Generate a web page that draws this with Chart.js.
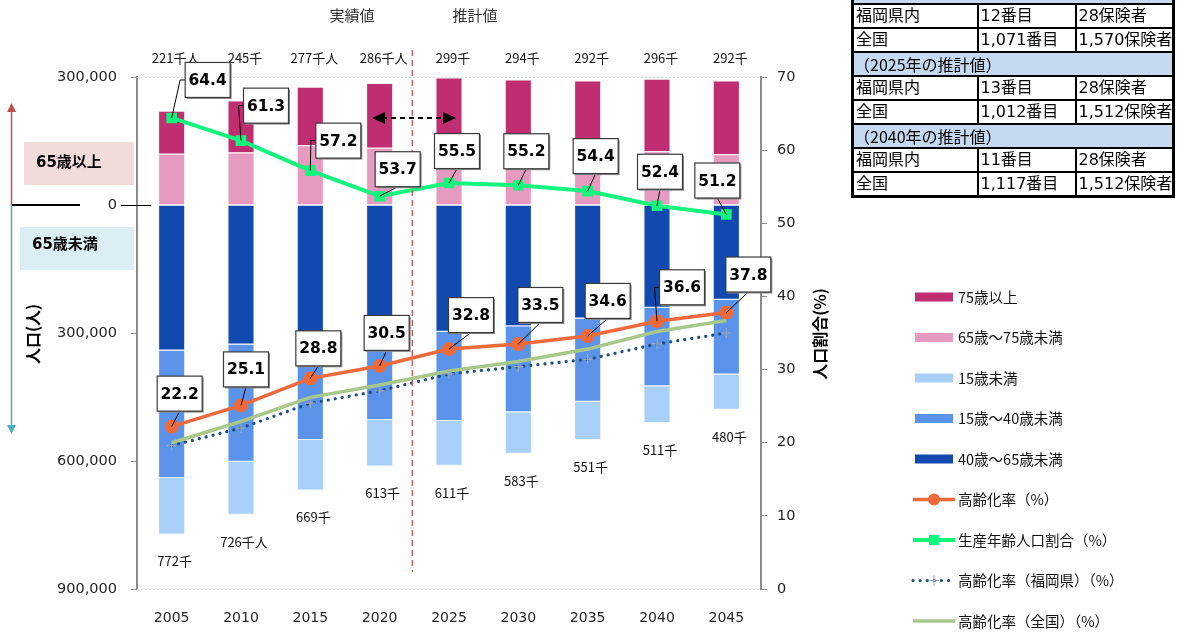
<!DOCTYPE html>
<html lang="ja">
<head>
<meta charset="utf-8">
<title>人口推移</title>
<script src="https://cdn.jsdelivr.net/npm/chart.js@4.4.1/dist/chart.umd.min.js"></script>
<style>
  html, body { margin: 0; padding: 0; background: #fff; }
  #wrap { position: relative; width: 1177px; height: 633px; overflow: hidden; }
  #chart { position: absolute; left: 0; top: 0; }
  #rank {
    position: absolute; left: 851px; top: -22px;
    border-collapse: collapse; border: 3px solid #000;
    table-layout: fixed; width: 324px;
    font: 16px "DejaVu Sans", "Noto Sans CJK JP", sans-serif; color: #000;
  }
  #rank td {
    border: 2px solid #000; height: 22px; line-height: 20px;
    padding: 0 0 0 2px; white-space: nowrap; overflow: hidden;
  }
  #rank tr.hd td { background: #c5d9f1; font-family: "Noto Sans CJK JP", sans-serif; padding-left: 0; }
</style>
</head>
<body>
<div id="wrap">
  <canvas id="chart" width="1177" height="633"></canvas>
  <table id="rank">
    <colgroup><col style="width:125px"><col style="width:98px"><col style="width:98px"></colgroup>
    <tr class="hd"><td colspan="3"></td></tr>
    <tr><td>福岡県内</td><td>12番目</td><td>28保険者</td></tr>
    <tr><td>全国</td><td>1,071番目</td><td>1,570保険者</td></tr>
    <tr class="hd"><td colspan="3">（2025年の推計値）</td></tr>
    <tr><td>福岡県内</td><td>13番目</td><td>28保険者</td></tr>
    <tr><td>全国</td><td>1,012番目</td><td>1,512保険者</td></tr>
    <tr class="hd"><td colspan="3">（2040年の推計値）</td></tr>
    <tr><td>福岡県内</td><td>11番目</td><td>28保険者</td></tr>
    <tr><td>全国</td><td>1,117番目</td><td>1,512保険者</td></tr>
  </table>
</div>
<script>
const years = ['2005', '2010', '2015', '2020', '2025', '2030', '2035', '2040', '2045'];

// population by age group (people); 65+ groups are drawn upward from 0
const pop75plus  = [101000, 122000, 137000, 152000, 184000, 187000, 179000, 170000, 173000];
const pop65to74  = [120000, 123000, 140000, 134000, 115000, 107000, 113000, 126000, 119000];
const pop40to64  = [341000, 327000, 310000, 295000, 297000, 284000, 266000, 241000, 222000];
const pop15to39  = [299000, 275000, 241000, 209000, 209000, 202000, 195000, 184000, 175000];
const popUnder15 = [132000, 124000, 118000, 109000, 105000, 97000, 90000, 86000, 83000];

// ratios (%)
const agingRate         = [22.2, 25.1, 28.8, 30.5, 32.8, 33.5, 34.6, 36.6, 37.8];
const workingAgeRate    = [64.4, 61.3, 57.2, 53.7, 55.5, 55.2, 54.4, 52.4, 51.2];
const agingRateFukuoka  = [19.6, 22.0, 25.4, 27.1, 29.4, 30.4, 31.4, 33.5, 35.0];
const agingRateNational = [20.0, 22.9, 26.2, 27.9, 29.8, 31.1, 32.8, 35.2, 36.7];

// total labels above (65+) and below (under 65) the bars
const topTotals    = ['221千人', '245千', '277千人', '286千人', '299千', '294千', '292千', '296千', '292千'];
const bottomTotals = ['772千', '726千人', '669千', '613千', '611千', '583千', '551千', '511千', '480千'];

const JP = '"Noto Sans CJK JP", sans-serif';
const NUM = '"DejaVu Sans", "Noto Sans CJK JP", sans-serif';

function arrowHead(ctx, x, y, dir, len, half) {
  // dir: 'up' | 'down' | 'left' | 'right', (x, y) is the tip
  ctx.beginPath();
  ctx.moveTo(x, y);
  if (dir === 'up')    { ctx.lineTo(x - half, y + len); ctx.lineTo(x + half, y + len); }
  if (dir === 'down')  { ctx.lineTo(x - half, y - len); ctx.lineTo(x + half, y - len); }
  if (dir === 'left')  { ctx.lineTo(x + len, y - half); ctx.lineTo(x + len, y + half); }
  if (dir === 'right') { ctx.lineTo(x - len, y - half); ctx.lineTo(x - len, y + half); }
  ctx.closePath();
  ctx.fill();
}

function drawCallout(ctx, px, py, cx, cy, text) {
  const w = 45, h = 35;
  const l = cx - w / 2, t = cy - h / 2;
  ctx.save();
  ctx.strokeStyle = '#000';
  ctx.lineWidth = 1;
  ctx.beginPath();
  ctx.moveTo(px, py);
  if (px < l) { ctx.lineTo(l - 5, cy); ctx.lineTo(l, cy); }
  else if (px > l + w) { ctx.lineTo(l + w + 5, cy); ctx.lineTo(l + w, cy); }
  else ctx.lineTo(cx, t + h);
  ctx.stroke();
  ctx.fillStyle = '#8a8a8a';
  ctx.fillRect(l + 1.5, t + 1.5, w, h);
  ctx.fillStyle = '#fff';
  ctx.fillRect(l, t, w, h);
  ctx.strokeStyle = '#3a3a3a';
  ctx.lineWidth = 1.2;
  ctx.strokeRect(l, t, w, h);
  ctx.fillStyle = '#000';
  ctx.font = 'bold 15.5px "DejaVu Sans"';
  ctx.textAlign = 'center';
  ctx.textBaseline = 'middle';
  ctx.fillText(text, cx, cy + 1);
  ctx.restore();
}

const decorations = {
  id: 'decorations',
  beforeDatasetsDraw(chart) {
    const { ctx, chartArea: a } = chart;
    ctx.save();
    ctx.strokeStyle = '#d3dde9';
    ctx.lineWidth = 1;
    ctx.setLineDash([2, 2]);
    [a.top, a.bottom].forEach(yy => {
      ctx.beginPath(); ctx.moveTo(a.left, yy + 0.5); ctx.lineTo(a.right, yy + 0.5); ctx.stroke();
    });
    ctx.restore();
  },
  afterDatasetsDraw(chart, args, opts) {
    const { ctx, scales } = chart;
    const x = scales.x, y = scales.y;
    ctx.save();

    // border between actual and projected values
    const xs = (x.getPixelForValue(3) + x.getPixelForValue(4)) / 2 - 2;
    ctx.strokeStyle = '#d06060';
    ctx.lineWidth = 1.5;
    ctx.setLineDash([6, 4]);
    ctx.beginPath(); ctx.moveTo(xs, 50); ctx.lineTo(xs, 572); ctx.stroke();

    // dashed double arrow
    ctx.strokeStyle = '#000';
    ctx.fillStyle = '#000';
    ctx.lineWidth = 2;
    ctx.setLineDash([5, 4]);
    ctx.beginPath(); ctx.moveTo(382, 118); ctx.lineTo(446, 118); ctx.stroke();
    ctx.setLineDash([]);
    arrowHead(ctx, 372, 118, 'left', 13, 6);
    arrowHead(ctx, 456, 118, 'right', 13, 6);

    // totals
    ctx.fillStyle = '#111';
    ctx.font = '13px ' + JP;
    ctx.textAlign = 'center';
    ctx.textBaseline = 'middle';
    years.forEach((_, i) => {
      const cx = x.getPixelForValue(i);
      ctx.fillText(topTotals[i], cx + 4, 58);
      const under = pop40to64[i] + pop15to39[i] + popUnder15[i];
      ctx.fillText(bottomTotals[i], cx + 3, y.getPixelForValue(under) + 27);
    });
    ctx.restore();

    // callout labels
    opts.sets.forEach(set => {
      const meta = chart.getDatasetMeta(set.dataset);
      const values = chart.data.datasets[set.dataset].data;
      meta.data.forEach((pt, i) => {
        const [dx, dy] = set.offsets[i];
        drawCallout(ctx, pt.x, pt.y, pt.x + dx, pt.y + dy, values[i].toFixed(1));
      });
    });
  },
  afterDraw(chart) {
    const { ctx, scales } = chart;
    const y0 = scales.y.getPixelForValue(0);
    ctx.save();

    // header texts
    ctx.fillStyle = '#333';
    ctx.font = '15px ' + JP;
    ctx.textAlign = 'center';
    ctx.textBaseline = 'middle';
    ctx.fillText('実績値', 352, 15);
    ctx.fillText('推計値', 475, 15);

    // side boxes
    ctx.fillStyle = '#f2dcdb';
    ctx.fillRect(24, 142, 110, 43);
    ctx.fillStyle = '#dbeef4';
    ctx.fillRect(20, 227, 114, 43);
    ctx.fillStyle = '#000';
    ctx.font = 'bold 15px ' + NUM;
    ctx.textAlign = 'left';
    ctx.fillText('65歳以上', 36, 163);
    ctx.fillText('65歳未満', 32, 245);

    // arrows on the left
    ctx.lineWidth = 1.5;
    ctx.strokeStyle = '#c0504d';
    ctx.fillStyle = '#c0504d';
    ctx.beginPath(); ctx.moveTo(11.5, y0); ctx.lineTo(11.5, 110); ctx.stroke();
    arrowHead(ctx, 11.5, 103, 'up', 9, 4.5);
    ctx.strokeStyle = '#4bacc6';
    ctx.fillStyle = '#4bacc6';
    ctx.beginPath(); ctx.moveTo(11.5, y0); ctx.lineTo(11.5, 426); ctx.stroke();
    arrowHead(ctx, 11.5, 434, 'down', 9, 4.5);
    ctx.strokeStyle = '#000';
    ctx.lineWidth = 2;
    ctx.beginPath(); ctx.moveTo(12, y0); ctx.lineTo(80, y0); ctx.stroke();
    ctx.lineWidth = 1;
    ctx.beginPath(); ctx.moveTo(121, y0 + 0.5); ctx.lineTo(151, y0 + 0.5); ctx.stroke();

    // axis titles
    ctx.fillStyle = '#000';
    ctx.font = 'bold 16px ' + JP;
    ctx.textAlign = 'center';
    [[33, '人口(人)'], [820, '人口割合(%)']].forEach(([tx, t]) => {
      ctx.save();
      ctx.translate(tx, 334);
      ctx.rotate(-Math.PI / 2);
      ctx.fillText(t, 0, 0);
      ctx.restore();
    });

    // legend
    const order = [5, 4, 8, 7, 6, 0, 1, 2, 3];
    ctx.font = '14.5px ' + JP;
    ctx.textAlign = 'left';
    order.forEach((di, k) => {
      const ds = chart.data.datasets[di];
      const ly = 297 + k * 40.5;
      ctx.save();
      if (ds.type === 'line') {
        ctx.strokeStyle = ds.borderColor;
        ctx.lineWidth = ds.borderWidth;
        ctx.lineCap = ds.borderCapStyle || 'butt';
        ctx.setLineDash(ds.borderDash || []);
        ctx.beginPath(); ctx.moveTo(913, ly); ctx.lineTo(955, ly); ctx.stroke();
        ctx.setLineDash([]);
        if (ds.pointStyle === 'circle') {
          ctx.fillStyle = ds.borderColor;
          ctx.beginPath(); ctx.arc(934, ly, 6, 0, Math.PI * 2); ctx.fill();
        } else if (ds.pointStyle === 'rect') {
          ctx.fillStyle = ds.borderColor;
          ctx.fillRect(929, ly - 5, 10, 10);
        } else if (ds.pointStyle === 'cross') {
          ctx.strokeStyle = ds.pointBorderColor;
          ctx.lineWidth = 1;
          ctx.beginPath();
          ctx.moveTo(929, ly); ctx.lineTo(939, ly);
          ctx.moveTo(934, ly - 5); ctx.lineTo(934, ly + 5);
          ctx.stroke();
        }
      } else {
        ctx.fillStyle = ds.backgroundColor;
        ctx.fillRect(915, ly - 4.5, 38, 9);
      }
      ctx.restore();
      ctx.fillStyle = '#111';
      ctx.fillText(ds.label, 958, ly);
    });
    ctx.restore();
  }
};

const neg = v => -v;
const tickFont = { family: '"DejaVu Sans"', size: 14.5 };

new Chart(document.getElementById('chart'), {
  type: 'bar',
  data: {
    labels: years,
    datasets: [
      { type: 'line', label: '高齢化率（%）', data: agingRate, yAxisID: 'y1',
        borderColor: '#ef6a3b', backgroundColor: '#ef6a3b', borderWidth: 3.5,
        pointStyle: 'circle', pointRadius: 7, pointBorderWidth: 0 },
      { type: 'line', label: '生産年齢人口割合（%）', data: workingAgeRate, yAxisID: 'y1',
        borderColor: '#14f57d', backgroundColor: '#14f57d', borderWidth: 4,
        pointStyle: 'rect', pointRadius: 7.5, pointBorderWidth: 0 },
      { type: 'line', label: '高齢化率（福岡県）（%）', data: agingRateFukuoka, yAxisID: 'y1',
        borderColor: '#1f4e82', borderWidth: 3.2, borderDash: [0.1, 7], borderCapStyle: 'round',
        pointStyle: 'cross', pointRadius: 5, pointBorderColor: '#9aa8bc', pointBorderWidth: 1.2 },
      { type: 'line', label: '高齢化率（全国）（%）', data: agingRateNational, yAxisID: 'y1',
        borderColor: '#a8c88a', borderWidth: 3.5, pointRadius: 0 },
      { label: '65歳～75歳未満', data: pop65to74.map(neg), backgroundColor: '#e79abf' },
      { label: '75歳以上', data: pop75plus.map(neg), backgroundColor: '#c02d70' },
      { label: '40歳～65歳未満', data: pop40to64, backgroundColor: '#1249ae' },
      { label: '15歳～40歳未満', data: pop15to39, backgroundColor: '#5b93eb' },
      { label: '15歳未満', data: popUnder15, backgroundColor: '#a8cff8' }
    ]
  },
  options: {
    responsive: false,
    animation: false,
    layout: { padding: { left: 0, right: 356, top: 77, bottom: 0 } },
    datasets: {
      bar: { yAxisID: 'y', barPercentage: 0.39, categoryPercentage: 1,
             borderColor: '#f3f5f9', borderWidth: 1 },
      line: { tension: 0 }
    },
    plugins: {
      legend: { display: false },
      tooltip: { enabled: false },
      decorations: {
        sets: [
          { dataset: 1, offsets: [[36, -38], [25, -35], [28, -30], [18, -27], [8, -32], [8, -34], [8, -35], [3, -34], [-9, -34]] },
          { dataset: 0, offsets: [[8, -33], [5, -36], [8, -30], [7, -33], [22, -34], [22, -39], [20, -35], [25, -34], [22, -38]] }
        ]
      }
    },
    scales: {
      x: {
        stacked: true,
        grid: { display: false },
        border: { display: false },
        ticks: { color: '#262626', font: { family: '"DejaVu Sans"', size: 14 }, padding: 13 },
        afterFit: s => { s.height = 44; }
      },
      y: {
        stacked: true,
        position: 'left',
        reverse: true,
        min: -300000,
        max: 900000,
        ticks: { stepSize: 300000, color: '#262626', font: tickFont, padding: 14,
                 callback: v => Math.abs(v).toLocaleString('en-US') },
        grid: { drawOnChartArea: false, tickColor: '#8c8c8c', tickLength: 6 },
        border: { color: '#8c8c8c', width: 2 },
        afterFit: s => { s.width = 137; }
      },
      y1: {
        position: 'right',
        min: 0,
        max: 70,
        ticks: { stepSize: 10, color: '#262626', font: tickFont, padding: 10 },
        grid: { drawOnChartArea: false, tickColor: '#8c8c8c', tickLength: 6 },
        border: { color: '#8c8c8c', width: 2 },
        afterFit: s => { s.width = 60; }
      }
    }
  },
  plugins: [decorations]
});
</script>
</body>
</html>
